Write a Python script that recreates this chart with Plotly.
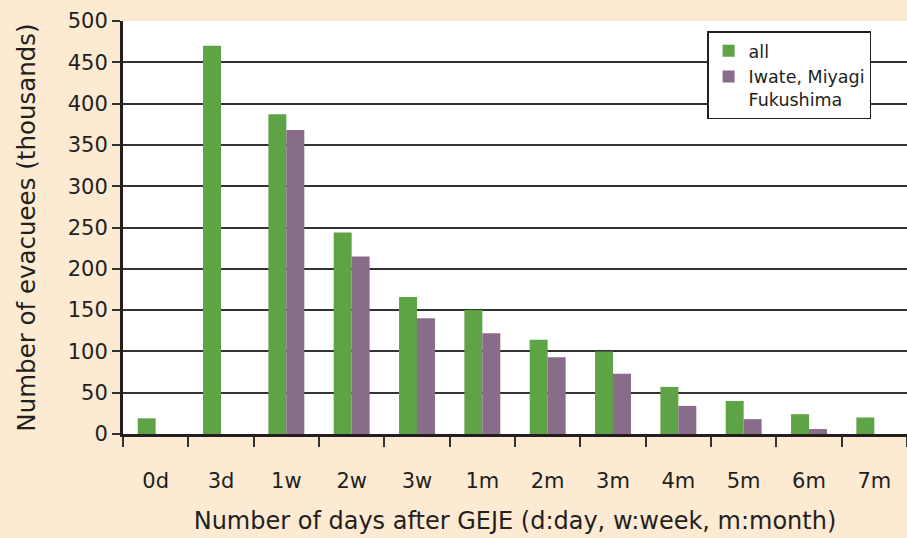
import plotly.graph_objects as go

categories = ["0d", "3d", "1w", "2w", "3w", "1m", "2m", "3m", "4m", "5m", "6m", "7m"]
all_vals = [19, 470, 387, 244, 166, 150, 114, 100, 57, 40, 24, 20]
iwate_vals = [None, None, 368, 215, 140, 122, 93, 73, 34, 18, 6, None]

fig = go.Figure()
fig.add_trace(go.Bar(x=categories, y=all_vals, name="all", marker=dict(color="#5EA446", line=dict(width=0))))
fig.add_trace(go.Bar(x=categories, y=iwate_vals, name="Iwate, Miyagi<br>Fukushima",
                     marker=dict(color="#896C8A", line=dict(width=0))))

font = "DejaVu Sans, Verdana, sans-serif"
fig.update_layout(
    width=907, height=538,
    margin=dict(l=123, r=0, t=21, b=104),
    paper_bgcolor="#FDEAD3",
    plot_bgcolor="white",
    barmode="group",
    bargap=0.45,
    bargroupgap=0,
    font=dict(family=font, color="#231F20", size=21),
    legend=dict(
        x=0.745, y=0.975, xanchor="left", yanchor="top",
        bgcolor="white", bordercolor="#231F20", borderwidth=1.5,
        font=dict(size=17.5), itemwidth=30, tracegroupgap=8, valign="top",
    ),
    xaxis=dict(
        range=[-0.5, 11.5],
        tickson="boundaries", ticks="outside", ticklen=10, tickwidth=2, tickcolor="#333",
        showline=True, linecolor="#231F20", linewidth=3,
        tickfont=dict(size=21), ticklabelstandoff=26,
        title=dict(text="Number of days after GEJE (d:day, w:week, m:month)", font=dict(size=24), standoff=20),
        showgrid=False,
    ),
    yaxis=dict(
        range=[0, 500], dtick=50,
        ticks="outside", ticklen=8, tickwidth=2, tickcolor="#333",
        showline=True, linecolor="#231F20", linewidth=3,
        showgrid=True, gridcolor="#333333", gridwidth=1.5,
        tickfont=dict(size=21),
        title=dict(text="Number of evacuees (thousands)", font=dict(size=24.5), standoff=26),
        zeroline=False,
    ),
)

fig.write_html("out.html", config={"displayModeBar": False},
               post_script="document.body.style.margin='0';")
